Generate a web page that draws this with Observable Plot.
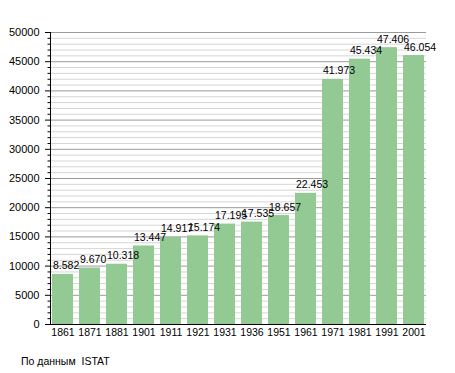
<!DOCTYPE html>
<html>
<head>
<meta charset="utf-8">
<script src="https://cdn.jsdelivr.net/npm/d3@7"></script>
<script src="https://cdn.jsdelivr.net/npm/@observablehq/plot@0.6"></script>
<style>
  html, body { margin: 0; padding: 0; background: #fff; }
  #chart svg { display: block; }
  #caption { font: 10.5px "Liberation Sans", Arial, sans-serif; color: #000; margin: 10px 0 0 21px; white-space: pre; }
</style>
</head>
<body>
<div id="chart"></div>
<div id="caption">По данным  ISTAT</div>
<script>
const years = ["1861","1871","1881","1901","1911","1921","1931","1936","1951","1961","1971","1981","1991","2001"];
const population = [8582, 9670, 10318, 13447, 14917, 15174, 17195, 17535, 18657, 22453, 41973, 45434, 47406, 46054];
const valueLabels = ["8.582","9.670","10.318","13.447","14.917","15.174","17.195","17.535","18.657","22.453","41.973","45.434","47.406","46.054"];
const majorTicks = d3.range(0, 50001, 5000);
const minorTicks = d3.range(0, 50001, 1000).filter(d => d % 5000 !== 0);

const data = years.map((y, i) => ({year: y, value: population[i], label: valueLabels[i]}));
const barColor = "#93c993";

const chart = Plot.plot({
  width: 455,
  height: 345,
  marginLeft: 50,
  marginRight: 29,
  marginTop: 32,
  marginBottom: 21,
  style: {fontFamily: "'Liberation Sans', Arial, sans-serif", fontSize: "10px", color: "#000", background: "#fff"},
  x: {type: "band", domain: years, paddingInner: 0.22, paddingOuter: 0.02, label: null},
  y: {domain: [0, 50000], label: null},
  marks: [
    Plot.ruleY(minorTicks, {stroke: "#d6d6d6", strokeWidth: 1}),
    Plot.ruleY(majorTicks, {stroke: "#9a9a9a", strokeWidth: 1}),
    Plot.barY(data, {x: "year", y: "value", fill: barColor}),
    Plot.text(data, {x: "year", y: "value", text: "label", textAnchor: "start", lineAnchor: "bottom", dx: -10, dy: -5, fontSize: 10.5, fill: "#000"}),
    Plot.axisY(majorTicks, {tickSize: 5, tickPadding: 6, tickFormat: d => String(d), fontSize: 11, stroke: "#000", label: null}),
    Plot.axisY(minorTicks, {tickSize: 2.5, tickFormat: () => "", stroke: "#000", label: null}),
    Plot.axisX({tickSize: 0, tickPadding: 4, fontSize: 10.5, label: null}),
    Plot.frame({anchor: "left", stroke: "#000"}),
    Plot.ruleY([0], {stroke: "#000"})
  ]
});
document.getElementById("chart").appendChild(chart);
</script>
</body>
</html>
